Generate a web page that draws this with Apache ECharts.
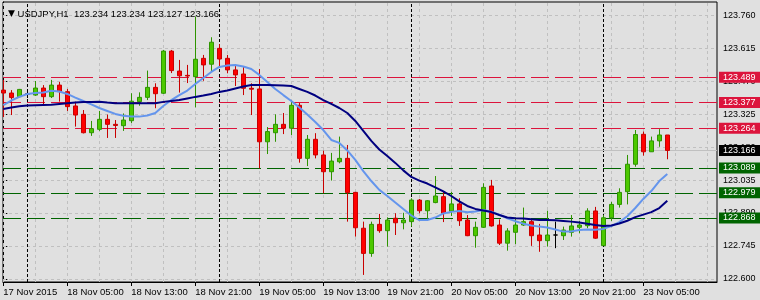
<!DOCTYPE html>
<html><head><meta charset="utf-8">
<script src="https://cdn.jsdelivr.net/npm/echarts@6/dist/echarts.min.js"></script>
<style>html,body{margin:0;padding:0;background:#e0e0e0}#c{width:760px;height:300px}</style>
</head><body><div id="c"></div>
<script>
const symbolTitle = 'USDJPY,H1';
const opens = [123.432,123.419,123.403,123.415,123.410,123.441,123.403,123.454,123.425,123.362,
123.325,123.244,123.259,123.303,123.281,123.275,123.297,123.381,123.400,123.444,
123.418,123.604,123.516,123.497,123.491,123.572,123.546,123.616,123.572,123.521,
123.503,123.440,123.437,123.204,123.244,123.281,123.264,123.365,123.131,123.215,
123.146,123.072,123.116,123.131,122.981,122.823,122.712,122.840,122.812,122.867,
122.847,122.852,122.947,122.900,122.936,122.962,122.898,122.930,122.859,122.790,
122.827,123.009,122.837,122.757,122.805,122.837,122.852,122.793,122.768,122.793,
122.790,122.805,122.827,122.834,122.899,122.746,122.869,122.928,122.984,123.105,
123.237,123.160,123.208,123.234];
const highs = [123.477,123.432,123.437,123.432,123.472,123.454,123.477,123.468,123.437,123.381,
123.344,123.296,123.340,123.324,123.300,123.329,123.418,123.422,123.518,123.462,
123.609,123.609,123.565,123.543,123.756,123.587,123.665,123.635,123.587,123.538,
123.536,123.462,123.525,123.269,123.325,123.331,123.388,123.375,123.234,123.242,
123.165,123.155,123.227,123.190,122.983,122.852,122.852,122.886,122.871,122.889,
122.891,122.955,122.952,122.947,123.053,122.984,122.983,122.955,122.881,122.852,
123.021,123.036,122.862,122.823,122.871,122.914,122.859,122.842,122.900,122.852,
122.830,122.881,122.855,122.911,122.917,122.881,122.939,122.999,123.146,123.256,
123.249,123.227,123.260,123.234];
const lows = [123.313,123.322,123.401,123.397,123.406,123.362,123.397,123.381,123.340,123.271,
123.241,123.230,123.252,123.221,123.221,123.252,123.287,123.363,123.388,123.352,
123.415,123.507,123.421,123.463,123.356,123.473,123.516,123.535,123.506,123.450,
123.410,123.322,123.087,123.150,123.204,123.238,123.234,123.112,123.097,123.131,
122.977,123.033,123.109,122.852,122.786,122.617,122.697,122.803,122.742,122.793,
122.818,122.830,122.889,122.862,122.933,122.850,122.877,122.833,122.788,122.737,
122.824,122.830,122.749,122.724,122.753,122.833,122.745,122.719,122.742,122.735,
122.771,122.786,122.801,122.823,122.776,122.745,122.855,122.914,122.928,123.094,
123.143,123.159,123.182,123.127];
const closes = [123.419,123.399,123.435,123.415,123.441,123.403,123.454,123.425,123.359,123.322,
123.244,123.262,123.303,123.281,123.276,123.300,123.383,123.400,123.444,123.416,
123.604,123.518,123.495,123.494,123.568,123.543,123.643,123.569,123.521,123.499,
123.440,123.436,123.204,123.249,123.281,123.264,123.365,123.131,123.215,123.146,
123.072,123.119,123.131,122.980,122.825,122.712,122.840,122.812,122.859,122.847,
122.859,122.947,122.900,122.944,122.965,122.889,122.930,122.856,122.790,122.827,
123.003,122.833,122.757,122.811,122.837,122.852,122.790,122.768,122.793,122.793,
122.815,122.833,122.837,122.899,122.779,122.869,122.928,122.981,123.105,123.236,
123.160,123.208,123.234,123.166];
const maFast = [123.366,123.386,123.402,123.415,123.419,123.421,123.429,123.426,123.415,123.399,
123.384,123.369,123.353,123.340,123.327,123.319,123.316,123.315,123.320,123.331,
123.362,123.388,123.410,123.430,123.459,123.485,123.512,123.534,123.540,123.543,
123.536,123.525,123.499,123.468,123.437,123.410,123.384,123.355,123.324,123.291,
123.256,123.212,123.199,123.166,123.124,123.075,123.031,122.992,122.965,122.936,
122.908,122.879,122.859,122.859,122.870,122.888,122.895,122.899,122.893,122.897,
122.903,122.896,122.883,122.867,122.854,122.843,122.835,122.830,122.826,122.817,
122.808,122.809,122.815,122.817,122.816,122.820,122.832,122.850,122.876,122.912,
122.952,122.987,123.031,123.062];
const maSlow = [123.349,123.355,123.361,123.364,123.365,123.366,123.367,123.371,123.374,123.377,
123.380,123.380,123.381,123.377,123.374,123.374,123.374,123.374,123.374,123.374,
123.380,123.384,123.388,123.395,123.402,123.408,123.415,123.424,123.430,123.439,
123.448,123.454,123.454,123.454,123.453,123.452,123.450,123.437,123.424,123.408,
123.388,123.371,123.353,123.331,123.296,123.252,123.208,123.170,123.141,123.111,
123.078,123.049,123.033,123.020,123.003,122.985,122.965,122.941,122.921,122.908,
122.901,122.894,122.881,122.870,122.867,122.866,122.862,122.859,122.859,122.858,
122.855,122.852,122.848,122.843,122.837,122.833,122.835,122.844,122.856,122.872,
122.883,122.894,122.912,122.944];
const xTickBars = [0,8,16,24,32,40,48,56,64,72,80];
const xTickLabels = ['17 Nov 2015','18 Nov 05:00','18 Nov 13:00','18 Nov 21:00','19 Nov 05:00','19 Nov 13:00','19 Nov 21:00','20 Nov 05:00','20 Nov 13:00','20 Nov 21:00','23 Nov 05:00'];
const gridBars = [0,4,8,12,16,20,24,28,32,36,40,44,48,52,56,60,64,68,72,76,80,84,88];
const daySeparatorBars = [3,27,51,75];
const yTicks = [122.600,122.745,122.890,123.035,123.180,123.325,123.470,123.615,123.760];
const resistanceLevels = [123.489,123.377,123.264];
const supportLevels = [123.089,122.979,122.868];
const bidPrice = 123.166;

const FONT = 'Liberation Sans, Arial, sans-serif';
const last = opens.length - 1;
const candleData = opens.map((o, i) => [i, o, closes[i], lows[i], highs[i]]);
const fastData = maFast.map((v, i) => [i, v]);
const slowData = maSlow.map((v, i) => [i, v]);
const titleText = '{t|\u25BC} ' + symbolTitle + '  ' + [opens[last], highs[last], lows[last], closes[last]].map(v => v.toFixed(3)).join(' ');

const lvlLabel = (bg) => ({show: true, position: 'end', distance: 2, formatter: p => Number(p.value).toFixed(3),
  color: '#fff', backgroundColor: bg, fontSize: 9, fontFamily: FONT, padding: [1, 5, 1, 4], lineHeight: 9});

const gridLines = [].concat(
  yTicks.map(v => ({yAxis: v})),
  gridBars.map(b => ({xAxis: b})),
  daySeparatorBars.map(b => ({xAxis: b, lineStyle: {color: '#000', type: [3, 2], width: 1}}))
);
const levelLines = [].concat(
  resistanceLevels.map(v => ({yAxis: v, lineStyle: {color: '#DC143C', type: [18, 6], width: 1}, label: lvlLabel('#DC143C')})),
  supportLevels.map(v => ({yAxis: v, lineStyle: {color: '#006400', type: [18, 6], width: 1}, label: lvlLabel('#006400')}))
);

const chart = echarts.init(document.getElementById('c'), null, {renderer: 'canvas'});
chart.setOption({
  animation: false,
  backgroundColor: '#e0e0e0',
  title: {text: titleText, left: 3, top: 4, textStyle: {fontSize: 9.5, fontWeight: 'normal', color: '#000', fontFamily: FONT,
    rich: {t: {fontSize: 9, color: '#000', fontFamily: 'DejaVu Sans'}}}},
  grid: {left: 3, right: 43, top: 2, bottom: 18, show: true, borderColor: '#000', borderWidth: 1, backgroundColor: 'transparent'},
  xAxis: {type: 'value', min: -0.0375, max: 89.2125,
    axisLine: {show: true, lineStyle: {color: '#000'}},
    axisTick: {show: true, customValues: xTickBars, length: 4, lineStyle: {color: '#000'}},
    axisLabel: {customValues: xTickBars, formatter: v => xTickLabels[xTickBars.indexOf(Math.round(v))], align: 'left', margin: 5,
      color: '#000', fontSize: 9.5, fontFamily: FONT},
    splitLine: {show: false}},
  yAxis: {type: 'value', position: 'right', min: 122.5858, max: 123.8204, scale: true,
    axisLine: {show: true, lineStyle: {color: '#000'}},
    axisTick: {show: true, customValues: yTicks, length: 4, lineStyle: {color: '#000'}},
    axisLabel: {customValues: yTicks, formatter: v => Number(v).toFixed(3), margin: 6, color: '#000', fontSize: 9, fontFamily: FONT},
    splitLine: {show: false}},
  series: [
    {type: 'candlestick', name: 'USDJPY', data: candleData, barWidth: 5, z: 2,
      itemStyle: {color: '#4cc800', color0: '#ff0000', borderColor: '#2e9400', borderColor0: '#c80000', borderColorDoji: '#000', borderWidth: 1},
      markLine: {z: 1.2, silent: true, symbol: 'none', animation: false, precision: 3,
        data: [{yAxis: bidPrice, lineStyle: {color: '#c0c0c0', type: 'solid', width: 1}, label: lvlLabel('#000')}]}},
    {type: 'line', name: 'MA fast', data: fastData, showSymbol: false, symbol: 'none', z: 3,
      lineStyle: {color: '#6495ED', width: 2},
      markLine: {z: 1, silent: true, symbol: 'none', animation: false, precision: 3, label: {show: false},
        lineStyle: {color: '#c0c0c0', type: [3, 3], width: 1}, data: gridLines}},
    {type: 'line', name: 'MA slow', data: slowData, showSymbol: false, symbol: 'none', z: 4,
      lineStyle: {color: '#000080', width: 2},
      markLine: {z: 1.5, silent: true, symbol: 'none', animation: false, precision: 3, data: levelLines}}
  ]
});
</script></body></html>
